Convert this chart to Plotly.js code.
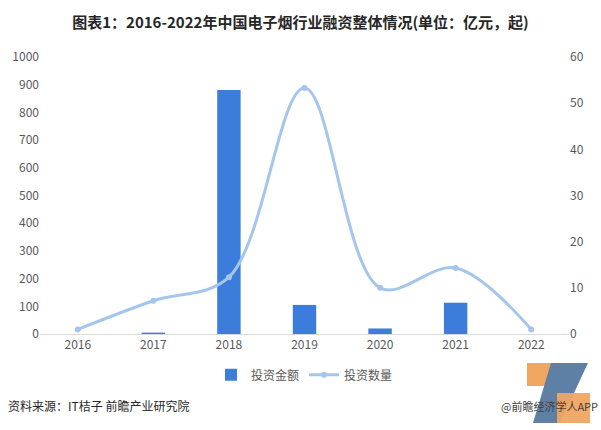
<!DOCTYPE html>
<html><head><meta charset="utf-8">
<script src="https://cdn.plot.ly/plotly-3.0.1.min.js"></script>
<style>body{margin:0;background:#fff}#c{width:601px;height:430px}</style>
</head><body><div id="c"></div>
<script>
const years = ['2016','2017','2018','2019','2020','2021','2022'];
const amount = [0, 5, 881, 105, 20, 113, 0];
const count = [1, 7.2, 12.3, 53.3, 10, 14.3, 1];
const leftTicks = [0,100,200,300,400,500,600,700,800,900,1000];
const rightTicks = [0,10,20,30,40,50,60];

const font = "'Noto Sans CJK SC', 'Noto Sans', sans-serif";
const data = [
  {type:'bar', x:years, y:amount, name:'投资金额', marker:{color:'#3c7ddb'}, width:0.31, yaxis:'y'},
  {type:'scatter', mode:'lines+markers', x:years, y:count, name:'投资数量', yaxis:'y2',
   line:{color:'#a4c6ec', width:3, shape:'spline', smoothing:1}, marker:{color:'#a4c6ec', size:6}}
];
// helpers to convert pixel positions to paper coords (plot area 40..569 x, 57..334 y)
const px = v => (v-40)/529, py = v => (334-v)/277;
const layout = {
  width:601, height:430,
  margin:{l:40, r:32, t:57, b:96},
  paper_bgcolor:'#fff', plot_bgcolor:'#fff',
  font:{family:font, color:'#595959', size:12},
  title:{text:'<b>图表1：2016-2022年中国电子烟行业融资整体情况(单位：亿元，起)</b>', x:0.5, y:0.96, xanchor:'center', font:{size:15, color:'#262626', family:font}},
  showlegend:true,
  legend:{orientation:'h', x:0.5, xanchor:'center', y:-0.095, yanchor:'top', font:{size:12, color:'#595959'}},
  xaxis:{type:'category', showline:true, linecolor:'#d9d9d9', linewidth:1, ticks:'', tickfont:{size:12, color:'#595959'}, showgrid:false},
  yaxis:{range:[0,1000], tickvals:leftTicks, showgrid:false, zeroline:false, showline:false, ticks:'', tickfont:{size:12, color:'#595959'}},
  yaxis2:{range:[0,60], tickvals:rightTicks, overlaying:'y', side:'right', showgrid:false, zeroline:false, showline:false, ticks:'', tickfont:{size:12, color:'#595959'}},
  annotations:[
    {text:'资料来源：IT桔子 前瞻产业研究院', xref:'paper', yref:'paper', x:px(6), y:py(405), xanchor:'left', yanchor:'middle', showarrow:false, font:{size:12, color:'#262626'}},
    {text:'@前瞻经济学人APP', xref:'paper', yref:'paper', x:px(600), y:py(406), xanchor:'right', yanchor:'middle', showarrow:false, font:{size:11, color:'#404040'}}
  ],
  shapes:[
    {type:'rect', xref:'paper', yref:'paper', x0:px(527), x1:px(553), y0:py(386), y1:py(363), fillcolor:'#f0a561', line:{width:0}, layer:'below'},
    {type:'path', xref:'paper', yref:'paper', path:`M ${px(533)},${py(423)} L ${px(560)},${py(423)} L ${px(588)},${py(363)} L ${px(551)},${py(363)} Z`, fillcolor:'#5f80a5', line:{width:0}, layer:'below'},
    {type:'rect', xref:'paper', yref:'paper', x0:px(557), x1:px(590), y0:py(423), y1:py(393), fillcolor:'#f0a561', line:{width:0}, layer:'below', opacity:0.95}
  ]
};
Plotly.newPlot('c', data, layout, {displayModeBar:false, staticPlot:true});
</script></body></html>
